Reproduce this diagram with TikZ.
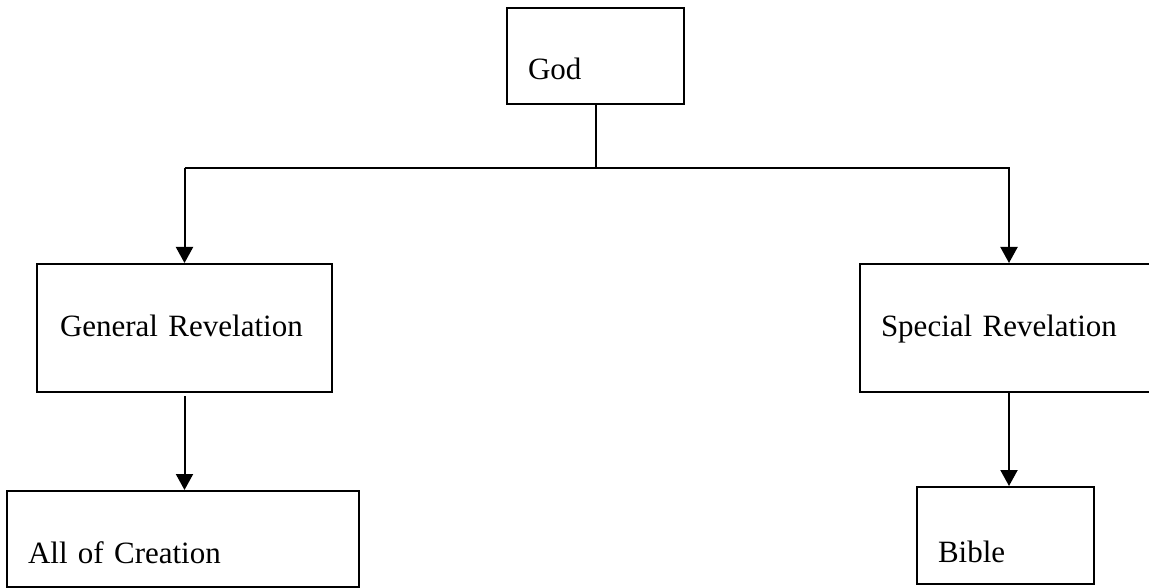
\documentclass[tikz,border=0pt]{standalone}
\usepackage{fontspec}
\setmainfont{Liberation Serif}
\usepackage{tikz}
\usetikzlibrary{arrows.meta}

\begin{document}
\begin{tikzpicture}[x=1pt,y=-1pt,line width=2pt,
    box/.style={draw,rectangle,inner xsep=21pt,inner ysep=0pt,align=left,
      font=\fontsize{31}{36}\selectfont},
    arr/.style={-{Triangle[length=16pt,width=17pt]}}]
    \clip (0,0) rectangle (1149,588);
    \node[box,text width=135pt,text height=72pt,text depth=24pt] (god) at (595.5,56) {God};
    \node[box,text width=249pt,inner xsep=23pt,text height=72pt,text depth=56pt] (genrev) at (184.5,328) {General Revelation};
    \node[box,text width=256pt,text height=72pt,text depth=56pt] (specrev) at (1009,328) {Special Revelation};
    \node[box,text width=310pt,text height=72pt,text depth=24pt] (allcre) at (183,539) {All of Creation};
    \node[box,text width=135pt,text height=75pt,text depth=22pt] (bible) at (1005.5,535.5) {Bible};
    \coordinate (bar) at (0,168);
    \draw (god.south) -- (god.south |- bar);
    \draw[arr] (genrev.north |- bar) -- (specrev.north |- bar) -- (specrev.north);
    \draw[arr] (genrev.north |- bar) -- (genrev.north);
    \draw[arr] ([yshift=-3pt]genrev.south) -- (genrev.south |- allcre.north);
    \draw[arr] (specrev.south) -- (specrev.south |- bible.north);
  \end{tikzpicture}
\end{document}
